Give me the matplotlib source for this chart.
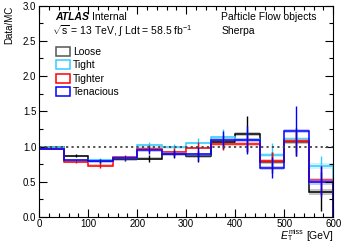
import numpy as np
import matplotlib
matplotlib.use('Agg')
import matplotlib.pyplot as plt
from matplotlib.patches import Patch
from matplotlib.ticker import MultipleLocator, FormatStrFormatter

plt.rcParams['font.family'] = ['Liberation Sans', 'DejaVu Sans']
plt.rcParams['mathtext.fontset'] = 'custom'
plt.rcParams['mathtext.rm'] = 'Liberation Sans'
plt.rcParams['mathtext.it'] = 'Liberation Sans:italic'

# bin edges in MET [GeV]
edges = [0, 50, 100, 150, 200, 250, 300, 350, 400, 450, 500, 550, 600]

labels = ['Loose', 'Tight', 'Tighter', 'Tenacious']
colors = ['#000000', '#33ccff', '#ff0000', '#0000ff']

loose = [0.99, 0.87, 0.80, 0.82, 0.83, 0.89, 0.86, 1.07, 1.18, 0.78, 1.07, 0.36]
tight = [1.00, 0.80, 0.81, 0.84, 1.02, 0.99, 1.05, 1.13, 1.10, 0.88, 1.11, 0.72]
tighter = [0.97, 0.78, 0.73, 0.85, 0.97, 0.92, 0.98, 1.03, 1.04, 0.80, 1.08, 0.52]
tenacious = [0.97, 0.81, 0.79, 0.84, 0.95, 0.90, 0.89, 1.095, 1.09, 0.70, 1.22, 0.50]

loose_err = [0.01, 0.02, 0.03, 0.03, 0.05, 0.05, 0.08, 0.10, 0.25, 0.15, 0.20, 0.28]
tight_err = [0.01, 0.02, 0.03, 0.03, 0.05, 0.05, 0.07, 0.12, 0.15, 0.17, 0.15, 0.15]
tighter_err = [0.01, 0.02, 0.03, 0.03, 0.05, 0.06, 0.08, 0.08, 0.12, 0.12, 0.15, 0.20]
tenacious_err = [0.01, 0.02, 0.03, 0.03, 0.05, 0.05, 0.10, 0.12, 0.20, 0.15, 0.35, 0.22]

band = [0.015, 0.015, 0.02, 0.02, 0.02, 0.02, 0.02, 0.02, 0.025, 0.03, 0.03, 0.04]

values = [loose, tight, tighter, tenacious]
errors = [loose_err, tight_err, tighter_err, tenacious_err]

fig = plt.figure(figsize=(3.41, 2.42), dpi=100)
ax = fig.add_axes([0.115, 0.103, 0.862, 0.874])

edges_a = np.array(edges)
centers = 0.5 * (edges_a[:-1] + edges_a[1:])
band_colors = ['#808080', '#99e6ff', '#ff8080', '#8080ff']

for vals, errs, c, bc in zip(values, errors, colors, band_colors):
    v = np.array(vals)
    b = np.array(band)
    ax.stairs(v + b, edges_a, baseline=v - b, fill=True, color=bc, alpha=0.45, lw=0)
    ax.stairs(v, edges_a, color=c, lw=1.1)
    ax.errorbar(centers, v, yerr=errs, fmt='none', ecolor=c, elinewidth=1.0, capsize=0)

ax.axhline(1.0, color='#444444', ls=(0, (1.2, 1.8)), lw=1.3)

ax.set_xlim(0, 600)
ax.set_ylim(0, 3.0)
ax.xaxis.set_major_locator(MultipleLocator(100))
ax.xaxis.set_minor_locator(MultipleLocator(20))
ax.yaxis.set_major_locator(MultipleLocator(0.5))
ax.yaxis.set_minor_locator(MultipleLocator(0.25))
ax.tick_params(which='both', direction='in', top=True, right=True, labelsize=7, pad=2)
ax.tick_params(axis='x', pad=1.5)
ax.tick_params(which='major', length=6, width=0.8)
ax.tick_params(which='minor', length=3, width=0.8)
ax.yaxis.set_major_formatter(FormatStrFormatter('%.1f'))

ax.set_ylabel('Data/MC', fontsize=7, loc='top', labelpad=6)

# x label built from pieces: E, sub T, sup miss, [GeV]
t_unit = fig.text(0.977, 0.006, '[GeV]', fontsize=7.5, ha='right', va='bottom')
t_sup = ax.annotate('miss', xy=(0, 0), xycoords=t_unit, xytext=(-2.5, 3.6),
                    textcoords='offset points', fontsize=5, ha='right', va='bottom')
t_sub = ax.annotate('T', xy=(0, 0), xycoords=(t_sup, t_unit), xytext=(0, -1.2),
                    textcoords='offset points', fontsize=5, ha='left', va='bottom')
t_e = ax.annotate('E', xy=(0, 0), xycoords=(t_sup, t_unit), xytext=(-0.2, 0),
                  textcoords='offset points', fontsize=7.5, fontstyle='italic',
                  ha='right', va='bottom')

ax.text(0.053, 0.946, 'ATLAS', transform=ax.transAxes, fontsize=7.5, fontweight='bold',
        fontstyle='italic', va='center')
ax.text(0.18, 0.946, 'Internal', transform=ax.transAxes, fontsize=7.5, va='center')
ax.text(0.045, 0.88, r'$\sqrt{\mathrm{s}}$ = 13 TeV, $\int$ Ldt = 58.5 fb$^{-1}$',
        transform=ax.transAxes, fontsize=7.5, va='center')
ax.text(0.62, 0.946, 'Particle Flow objects', transform=ax.transAxes, fontsize=7.5, va='center')
ax.text(0.62, 0.88, 'Sherpa', transform=ax.transAxes, fontsize=7.5, va='center')

handles = [Patch(facecolor='white', edgecolor=c, lw=1.1) for c in ['#555555'] + colors[1:]]
ax.legend(handles, labels, loc='upper left', bbox_to_anchor=(0.057, 0.805), fontsize=7.5,
          frameon=False, handlelength=1.35, handleheight=1.0, handletextpad=0.3,
          labelspacing=0.3, borderpad=0, borderaxespad=0)

fig.savefig('out.png', dpi=100)
